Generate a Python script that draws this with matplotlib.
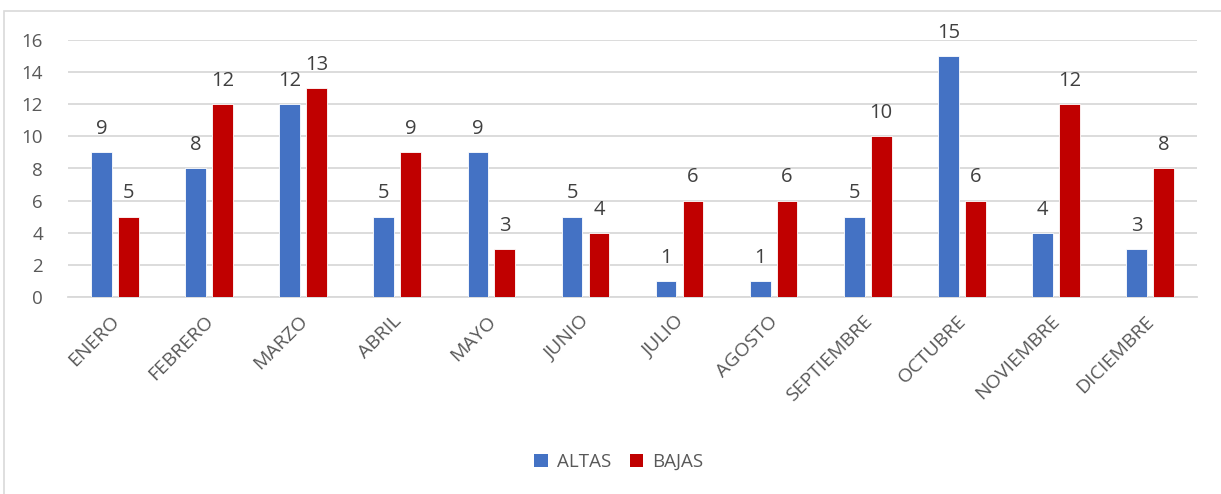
import matplotlib
matplotlib.use("Agg")
import matplotlib.pyplot as plt
import matplotlib.transforms as mtransforms
import numpy as np
from matplotlib.patches import Rectangle, Patch

plt.rcParams['font.family'] = ['Open Sans', 'DejaVu Sans']

meses = ["ENERO", "FEBRERO", "MARZO", "ABRIL", "MAYO", "JUNIO", "JULIO",
         "AGOSTO", "SEPTIEMBRE", "OCTUBRE", "NOVIEMBRE", "DICIEMBRE"]
altas = [9, 8, 12, 5, 9, 5, 1, 1, 5, 15, 4, 3]
bajas = [5, 12, 13, 9, 3, 4, 6, 6, 10, 6, 12, 8]
series_names = ["ALTAS", "BAJAS"]
colors = ["#4472C4", "#C00000"]
yticks = [0, 2, 4, 6, 8, 10, 12, 14, 16]

W, H = 1221, 494
fig = plt.figure(figsize=(W / 100, H / 100), dpi=100)
fig.patches.append(Rectangle((4 / W, -0.1), 1.2, 1 - 11 / H + 0.1, transform=fig.transFigure,
                             fill=False, edgecolor="#D9D9D9", linewidth=1.2))

ax = fig.add_axes([68 / W, 1 - 297 / H, (1197 - 68) / W, (297 - 40) / H])
x = np.arange(len(meses))
bw = 0.22
off = 0.143
text_color = "#595959"
for vals, name, col, d in [(altas, series_names[0], colors[0], -off),
                           (bajas, series_names[1], colors[1], off)]:
    bars = ax.bar(x + d, vals, bw, color=col, edgecolor="white", linewidth=0.6,
                  label=name, zorder=3)
    for b, v in zip(bars, vals):
        ax.annotate(str(v), (b.get_x() + b.get_width() / 2, v), xytext=(0, 9.5),
                    textcoords="offset points", ha="center", va="bottom",
                    fontsize=14.5, color="#404040")

ax.set_xlim(-0.5, len(meses) - 0.5)
ax.set_ylim(0, 16)
ax.set_yticks(yticks)
ax.yaxis.grid(True, color="#D9D9D9", linewidth=1.3, zorder=0)
ax.set_axisbelow(True)
for s in ["top", "right", "left"]:
    ax.spines[s].set_visible(False)
ax.spines["bottom"].set_color("#D9D9D9")
ax.spines["bottom"].set_linewidth(1.3)
ax.tick_params(axis="both", length=0, labelcolor=text_color)
ax.tick_params(axis="y", pad=18, labelsize=13.5)
ax.set_xticks(x)
ax.set_xticklabels(meses, rotation=45, ha="right", va="top", rotation_mode="anchor")
ax.tick_params(axis="x", pad=11, labelsize=14)
shift = mtransforms.ScaledTranslation(-5 / 100, 0, fig.dpi_scale_trans)
for lbl in ax.get_xticklabels():
    lbl.set_transform(lbl.get_transform() + shift)

handles = [Patch(facecolor=colors[0]), Patch(facecolor=colors[1])]
fig.legend(handles, series_names, loc="center", bbox_to_anchor=(619 / W, 1 - 462 / H),
           ncol=2, frameon=False, fontsize=13.5, handlelength=0.7, handleheight=0.7,
           handletextpad=0.5, columnspacing=1.0, labelcolor=text_color)

fig.savefig("out.png", dpi=100)
